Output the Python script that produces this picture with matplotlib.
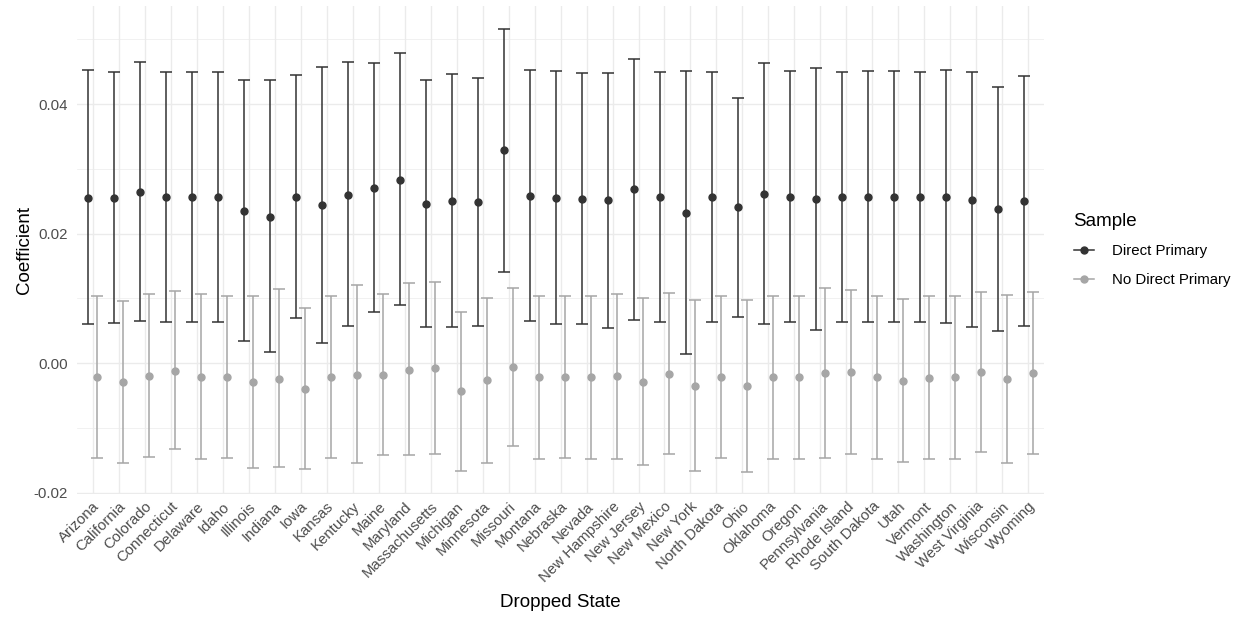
import numpy as np
import matplotlib
matplotlib.use("Agg")
from matplotlib import pyplot as plt
from matplotlib.lines import Line2D

plt.rcParams['font.family'] = ['Liberation Sans', 'DejaVu Sans']

states = ["Arizona", "California", "Colorado", "Connecticut", "Delaware", "Idaho",
          "Illinois", "Indiana", "Iowa", "Kansas", "Kentucky", "Maine", "Maryland",
          "Massachusetts", "Michigan", "Minnesota", "Missouri", "Montana", "Nebraska",
          "Nevada", "New Hampshire", "New Jersey", "New Mexico", "New York",
          "North Dakota", "Ohio", "Oklahoma", "Oregon", "Pennsylvania", "Rhode Island",
          "South Dakota", "Utah", "Vermont", "Washington", "West Virginia",
          "Wisconsin", "Wyoming"]

# direct primary sample: estimate and 95% interval
dp_coef = [0.02556, 0.02551, 0.02644, 0.02562, 0.02560, 0.02560, 0.02350, 0.02263,
           0.02566, 0.02443, 0.02602, 0.02701, 0.02829, 0.02463, 0.02505, 0.02484,
           0.03287, 0.02587, 0.02556, 0.02540, 0.02515, 0.02690, 0.02562, 0.02324,
           0.02560, 0.02407, 0.02613, 0.02571, 0.02531, 0.02562, 0.02566, 0.02566,
           0.02560, 0.02571, 0.02520, 0.02377, 0.02500]
dp_low = [0.00602, 0.00627, 0.00653, 0.00637, 0.00632, 0.00632, 0.00349, 0.00170,
          0.00694, 0.00318, 0.00580, 0.00792, 0.00900, 0.00565, 0.00556, 0.00571,
          0.01404, 0.00648, 0.00606, 0.00612, 0.00550, 0.00668, 0.00632, 0.00144,
          0.00632, 0.00719, 0.00602, 0.00637, 0.00509, 0.00632, 0.00637, 0.00637,
          0.00632, 0.00622, 0.00556, 0.00498, 0.00580]
dp_high = [0.04522, 0.04491, 0.04654, 0.04500, 0.04500, 0.04500, 0.04372, 0.04367,
           0.04449, 0.04573, 0.04645, 0.04630, 0.04784, 0.04367, 0.04460, 0.04398,
           0.05164, 0.04526, 0.04516, 0.04485, 0.04475, 0.04701, 0.04495, 0.04511,
           0.04500, 0.04090, 0.04640, 0.04511, 0.04550, 0.04500, 0.04511, 0.04506,
           0.04500, 0.04531, 0.04491, 0.04264, 0.04429]

# no direct primary sample
ndp_coef = [-0.00216, -0.00289, -0.00196, -0.00114, -0.00206, -0.00216, -0.00293,
            -0.00237, -0.00391, -0.00216, -0.00175, -0.00180, -0.00098, -0.00073,
            -0.00427, -0.00263, -0.00062, -0.00216, -0.00216, -0.00216, -0.00201,
            -0.00283, -0.00165, -0.00345, -0.00216, -0.00350, -0.00216, -0.00216,
            -0.00155, -0.00134, -0.00216, -0.00268, -0.00232, -0.00216, -0.00134,
            -0.00247, -0.00150]
ndp_low = [-0.01466, -0.01543, -0.01441, -0.01323, -0.01481, -0.01466, -0.01611,
           -0.01600, -0.01626, -0.01456, -0.01533, -0.01410, -0.01415, -0.01395,
           -0.01657, -0.01539, -0.01276, -0.01472, -0.01466, -0.01472, -0.01481,
           -0.01569, -0.01400, -0.01657, -0.01466, -0.01672, -0.01472, -0.01472,
           -0.01456, -0.01400, -0.01472, -0.01523, -0.01481, -0.01472, -0.01373,
           -0.01533, -0.01395]
ndp_high = [0.01043, 0.00966, 0.01065, 0.01116, 0.01074, 0.01043, 0.01034, 0.01142,
            0.00858, 0.01043, 0.01204, 0.01069, 0.01237, 0.01262, 0.00796, 0.01012,
            0.01162, 0.01038, 0.01038, 0.01038, 0.01074, 0.01003, 0.01085, 0.00972,
            0.01038, 0.00977, 0.01038, 0.01043, 0.01167, 0.01131, 0.01038, 0.00988,
            0.01038, 0.01043, 0.01105, 0.01049, 0.01096]

dark = "#333333"
light = "#a6a6a6"
txt_grey = "#4d4d4d"
grid_col = "#ebebeb"

fig = plt.figure(figsize=(12.42, 6.19), dpi=100)
ax = fig.add_axes([0.062, 0.2023, 0.7786, 0.7872])

x = np.arange(len(states))
dodge = 0.175

series = [
    ("Direct Primary", dp_coef, dp_low, dp_high, dark, -dodge),
    ("No Direct Primary", ndp_coef, ndp_low, ndp_high, light, dodge),
]
for name, c, lo, hi, col, off in series:
    c = np.array(c)
    yerr = [c - np.array(lo), np.array(hi) - c]
    ax.errorbar(x + off, c, yerr=yerr, fmt="o", color=col, ecolor=col,
                markersize=5, elinewidth=1.1, capsize=4.2, capthick=1.1, zorder=3)

# axis limits with ggplot-like 5% padding
allv = np.concatenate([dp_low, dp_high, ndp_low, ndp_high])
span = allv.max() - allv.min()
ax.set_ylim(allv.min() - 0.05 * span, allv.max() + 0.05 * span)
ax.set_xlim(-0.6, len(states) - 0.4)

ax.set_yticks([-0.02, 0.0, 0.02, 0.04])
ax.set_yticklabels(["-0.02", "0.00", "0.02", "0.04"])
ax.set_yticks([-0.01, 0.01, 0.03, 0.05], minor=True)
ax.set_xticks(x)
ax.set_xticklabels(states, rotation=45, ha="right", va="top", rotation_mode="anchor")

ax.grid(True, which="major", color=grid_col, linewidth=1.0, zorder=0)
ax.grid(True, which="minor", axis="y", color=grid_col, linewidth=0.5, zorder=0)
ax.set_axisbelow(True)
for s in ax.spines.values():
    s.set_visible(False)
ax.tick_params(which="both", length=0)
ax.tick_params(axis="y", pad=6.5, labelsize=10.8, labelcolor=txt_grey)
ax.tick_params(axis="x", pad=4, labelsize=10.8, labelcolor=txt_grey)

ax.set_xlabel("Dropped State", fontsize=13.5, va="center")
ax.set_ylabel("Coefficient", fontsize=13.5, va="center")
ax.xaxis.set_label_coords(0.5, -0.2236)
ax.yaxis.set_label_coords(-0.0548, 0.5)

handles = [Line2D([], [], color=dark, marker="o", markersize=5, linewidth=1.1),
           Line2D([], [], color=light, marker="o", markersize=5, linewidth=1.1)]
leg = fig.legend(handles, ["Direct Primary", "No Direct Primary"], title="Sample",
                 loc="center left", bbox_to_anchor=(1060 / 1242, 1 - 250 / 619),
                 frameon=False, fontsize=10.8, title_fontsize=13.5,
                 handlelength=1.35, handletextpad=1.2, labelspacing=0.98,
                 alignment="left")

fig.savefig("out.png", dpi=100)
